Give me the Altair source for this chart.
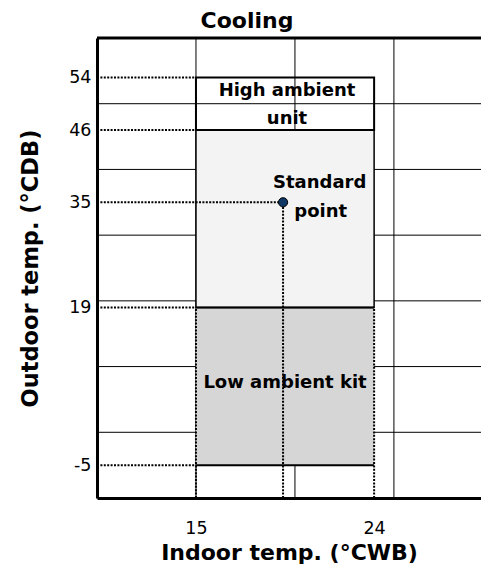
import altair as alt
import pandas as pd

# ---- data ----
indoor_range = [15, 24]            # indoor temp. (°CWB) limits
low_ambient_range = [-5, 19]       # outdoor temp. (°CDB) low ambient kit
standard_range = [19, 46]          # outdoor temp. standard unit
high_ambient_range = [46, 54]      # outdoor temp. high ambient unit
standard_x = [19.4]
standard_y = [35]
x_ticks = [15, 24]
y_ticks = [54, 46, 35, 19, -5]
x_grid = [15, 20, 25]
y_grid = [0, 10, 20, 30, 40, 50]
x_domain = [10, 29.4]
y_domain = [-10, 60]

FONT = "DejaVu Sans"
XS = alt.Scale(domain=x_domain, nice=False, zero=False)
YS = alt.Scale(domain=y_domain, nice=False, zero=False)
XAX = alt.Axis(
    values=x_ticks, grid=False, ticks=False, domainWidth=3, domainColor="black",
    labelFont=FONT, labelFontSize=17.5, labelColor="black", labelPadding=21,
    labelExpr="'' + datum.value",
    title="Indoor temp. (°CWB)", titleFont=FONT, titleFontSize=22,
    titleFontWeight="bold", titleColor="black", titlePadding=6)
YAX = alt.Axis(
    values=y_ticks, grid=False, ticks=False, domainWidth=3, domainColor="black",
    labelFont=FONT, labelFontSize=17.5, labelColor="black", labelPadding=6,
    labelExpr="'' + datum.value",
    title="Outdoor temp. (°CDB)", titleFont=FONT, titleFontSize=22.5,
    titleFontWeight="bold", titleColor="black", titlePadding=26)


def X(f="x"):
    return alt.X(f"{f}:Q", scale=XS, axis=XAX)


def Y(f="y"):
    return alt.Y(f"{f}:Q", scale=YS, axis=YAX)


# ---- grid ----
vgrid = alt.Chart(pd.DataFrame({"x": x_grid})).mark_rule(
    color="black", strokeWidth=1).encode(x=X())
hgrid = alt.Chart(pd.DataFrame({"y": y_grid})).mark_rule(
    color="black", strokeWidth=1).encode(y=Y())
top_border = alt.Chart(pd.DataFrame({"y": [y_domain[1]]})).mark_rule(
    color="black", strokeWidth=3).encode(y=Y())


def rect_df(xr, yr):
    return pd.DataFrame({"x": [xr[0]], "x2": [xr[1]], "y": [yr[0]], "y2": [yr[1]]})


def rect_enc(ch):
    return ch.encode(x=X(), x2="x2:Q", y=Y(), y2="y2:Q")


low_box = rect_enc(alt.Chart(rect_df(indoor_range, low_ambient_range)).mark_rect(
    fill="#d6d6d6", strokeWidth=0))
std_box = rect_enc(alt.Chart(rect_df(indoor_range, standard_range)).mark_rect(
    fill="#f3f3f3", stroke="black", strokeWidth=1.5))
high_box = rect_enc(alt.Chart(rect_df(indoor_range, high_ambient_range)).mark_rect(
    fillOpacity=0, stroke="black", strokeWidth=2))

# solid top / bottom edges of the low-ambient box
low_edges = alt.Chart(pd.DataFrame({
    "y": low_ambient_range, "x": [indoor_range[0]] * 2, "x2": [indoor_range[1]] * 2
})).mark_rule(color="black", strokeWidth=2).encode(x=X(), x2="x2:Q", y=Y())

DASH = [2, 1.4]
# horizontal dotted leaders from the axis
h_dot = alt.Chart(pd.DataFrame({
    "y": y_ticks,
    "x": [x_domain[0]] * len(y_ticks),
    "x2": [indoor_range[0], indoor_range[0], standard_x[0], indoor_range[0], indoor_range[0]],
})).mark_rule(color="black", strokeWidth=2, strokeDash=DASH).encode(
    x=X(), x2="x2:Q", y=Y())

# vertical dotted leaders from the axis
v_dot = alt.Chart(pd.DataFrame({
    "x": [indoor_range[0], indoor_range[1], standard_x[0]],
    "y": [y_domain[0]] * 3,
    "y2": [low_ambient_range[1], low_ambient_range[1], standard_y[0]],
})).mark_rule(color="black", strokeWidth=2, strokeDash=DASH).encode(
    x=X(), y=Y(), y2="y2:Q")

point = alt.Chart(pd.DataFrame({"x": standard_x, "y": standard_y})).mark_point(
    filled=True, shape="circle", size=85, fill="#0f3766", stroke="black",
    strokeWidth=1, opacity=1).encode(x=X(), y=Y())

labels = alt.Chart(pd.DataFrame({
    "x": [19.6, 19.6, 21.25, 21.3, 19.5],
    "y": [51.9, 47.7, 37.9, 33.5, 7.5],
    "t": ["High ambient", "unit", "Standard", "point", "Low ambient kit"],
})).mark_text(font=FONT, fontSize=18, fontWeight="bold", color="black",
              align="center", baseline="middle").encode(x=X(), y=Y(), text="t:N")

chart = alt.layer(
    vgrid, hgrid, low_box, std_box, high_box, low_edges, h_dot, v_dot,
    top_border, point, labels
).properties(
    width=384, height=460,
    autosize=alt.AutoSizeParams(type="none"),
    padding={"left": 89, "top": 30, "right": 0, "bottom": 67},
    title=alt.TitleParams("Cooling", font=FONT, fontSize=22, fontWeight="bold",
                          color="black", anchor="middle", dx=-42, offset=4),
).configure_view(stroke=None).configure(background="white")

chart.save("out.html", embed_options={"renderer": "svg", "actions": False})
